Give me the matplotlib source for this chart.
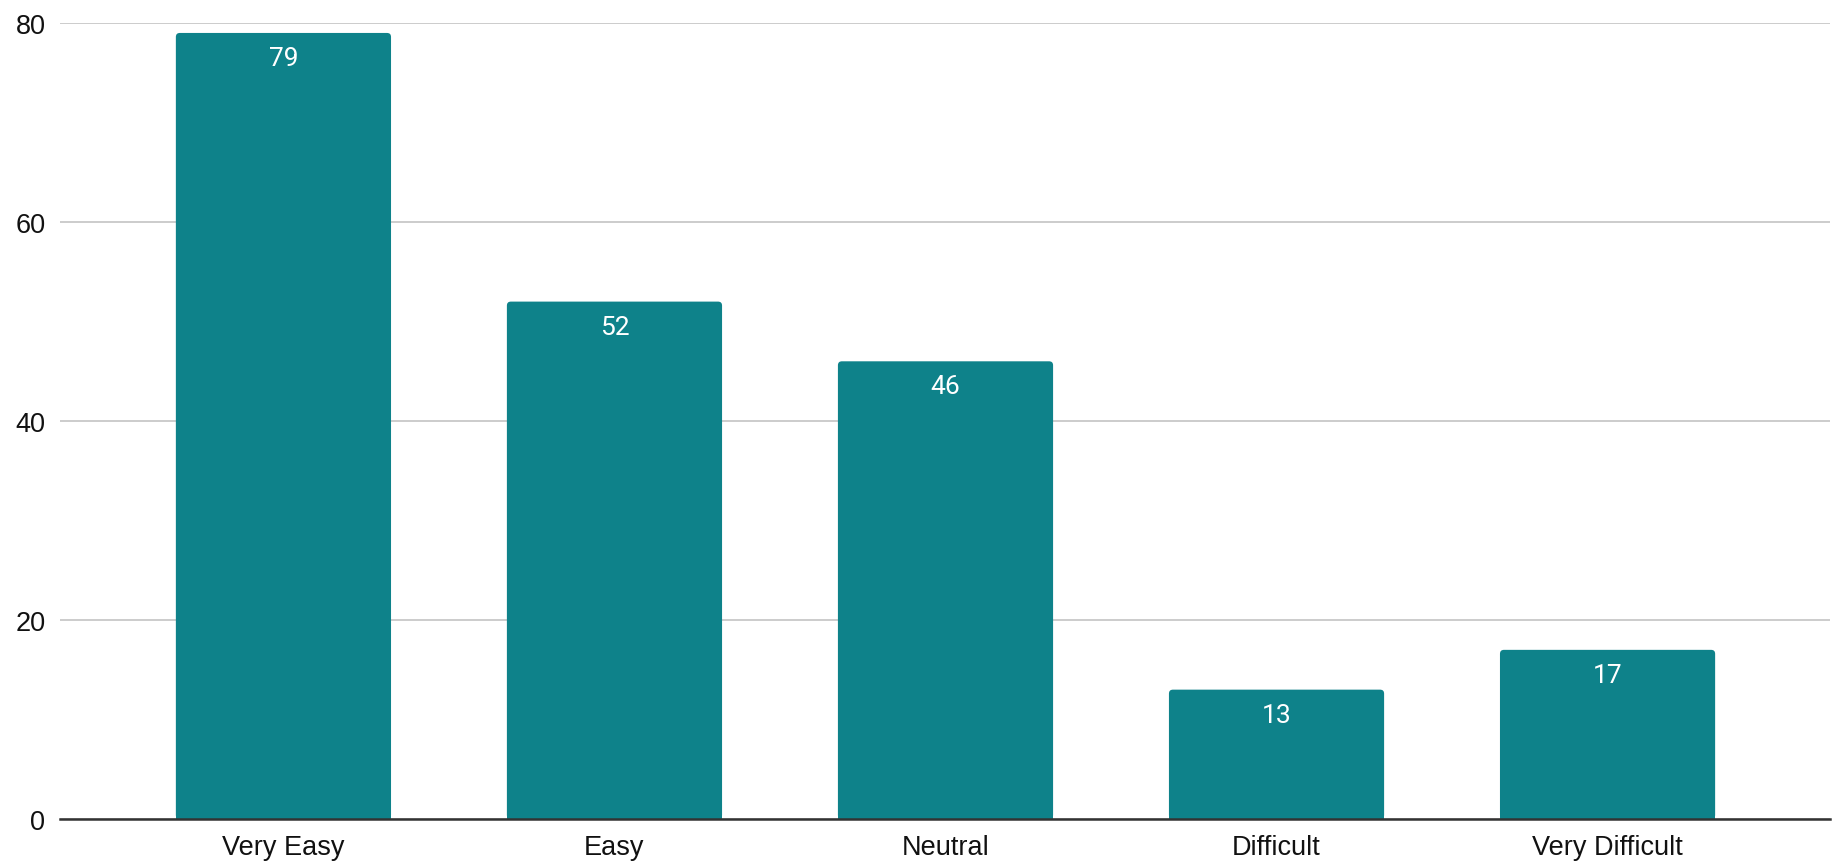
import matplotlib
matplotlib.use("Agg")
import matplotlib.pyplot as plt
from matplotlib.patches import FancyBboxPatch

categories = ["Very Easy", "Easy", "Neutral", "Difficult", "Very Difficult"]
counts = [79, 52, 46, 13, 17]
y_ticks = [0, 20, 40, 60, 80]

bar_color = "#0E828A"

fig = plt.figure(figsize=(18.37, 8.62), dpi=100)
ax = fig.add_axes([60 / 1837, 1 - 820 / 862, 1770 / 1837, 796 / 862])

x = list(range(len(categories)))
bars = ax.bar(x, counts, width=0.65, color=bar_color, zorder=3)

# soften the top corners of each bar slightly
for b in bars:
    b.set_visible(False)
    px, py = b.get_x(), b.get_y()
    w, h = b.get_width(), b.get_height()
    patch = FancyBboxPatch((px, py), w, h,
                           boxstyle="round,pad=0,rounding_size=0.012",
                           mutation_aspect=80 / 5.35 * 1770 / 796,
                           facecolor=bar_color, edgecolor="none", zorder=3)
    ax.add_patch(patch)
    # square bottom corners
    ax.bar(px + w / 2, min(h, 2), width=w, color=bar_color, zorder=3)

for xi, v in zip(x, counts):
    ax.annotate(str(v), (xi, v), xytext=(0, -18), textcoords="offset points",
                ha="center", va="center", color="white", fontsize=19,
                family=["Roboto", "DejaVu Sans"], zorder=4)

ax.set_xlim(-0.675, 4.672)
ax.set_ylim(0, 80)
ax.set_yticks(y_ticks)
ax.set_yticklabels([str(t) for t in y_ticks])
ax.set_xticks(x)
ax.set_xticklabels(categories)

for lbl in ax.get_xticklabels() + ax.get_yticklabels():
    lbl.set_fontfamily(["Liberation Sans", "DejaVu Sans"])
    lbl.set_fontsize(19.5)
    lbl.set_color("#111111")

ax.tick_params(axis="both", length=0)
ax.tick_params(axis="y", pad=10.5)
ax.tick_params(axis="x", pad=10.5)

ax.yaxis.grid(True, color="#cccccc", linewidth=1.4, zorder=0)
ax.set_axisbelow(True)

for s in ["top", "right", "left"]:
    ax.spines[s].set_visible(False)
ax.spines["bottom"].set_color("#333333")
ax.spines["bottom"].set_linewidth(1.8)
ax.spines["bottom"].set_zorder(5)

fig.savefig("out.png", dpi=100, facecolor="white")
